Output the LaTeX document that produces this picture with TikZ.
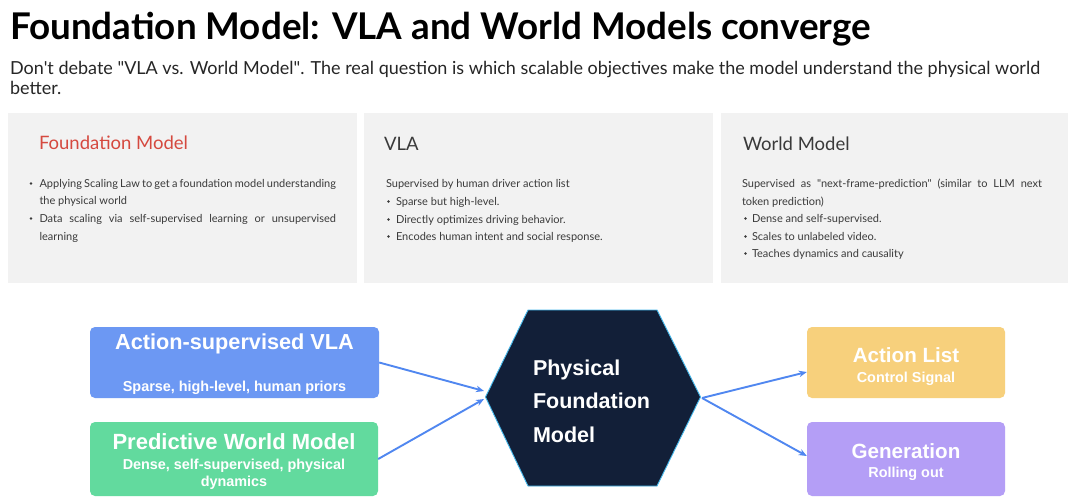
\documentclass[tikz,border=0pt]{standalone}
\usepackage{fontspec}
\setmainfont{Lato}
\newfontfamily\hel{Liberation Sans}
\usetikzlibrary{arrows.meta,calc}
\definecolor{panelgray}{HTML}{F2F2F2}
\definecolor{paneltext}{HTML}{3A3A3A}
\definecolor{fmred}{HTML}{D5493F}
\definecolor{vlablue}{HTML}{6C98F3}
\definecolor{wmgreen}{HTML}{62DA9E}
\definecolor{actyellow}{HTML}{F7D07C}
\definecolor{genpurple}{HTML}{B49EF6}
\definecolor{hexnavy}{HTML}{121F38}
\definecolor{hexedge}{HTML}{45B8EC}
\definecolor{arrowblue}{HTML}{5087F0}
\begin{document}
\begin{tikzpicture}[x=1pt,y=-1pt,
  txt/.style={anchor=base west,inner sep=0pt,outer sep=0pt},
  panelbox/.style={fill=panelgray,draw=none,anchor=north west,inner sep=0pt,minimum width=#1,minimum height=170pt},
  ptitle/.style={txt,font=\fontsize{18.5}{22}\selectfont,text=paneltext},
  pbody/.style={txt,font=\fontsize{11}{13}\selectfont,text=paneltext},
  pdot/.style={circle,fill=paneltext,draw=none,inner sep=0pt,minimum size=2.6pt},
  cbox/.style={draw=none,rounded corners=5pt,inner sep=0pt,minimum height=#1},
  btitle/.style={anchor=base,inner sep=0pt,text=white,font=\hel\bfseries\fontsize{21.7}{24}\selectfont},
  rtitle/.style={anchor=base,inner sep=0pt,text=white,font=\hel\bfseries\fontsize{20.6}{24}\selectfont},
  bsub/.style={anchor=base,inner sep=0pt,text=white,font=\hel\bfseries\fontsize{14.4}{18}\selectfont},
  flow/.style={draw=arrowblue,line width=1.9pt,-{Stealth[length=8pt,width=6.5pt]}}
]
\useasboundingbox (0,0) rectangle (1080,498);
\fill[white] (0,0) rectangle (1080,498);

% title and subtitle
\node[txt,font=\bfseries\fontsize{36.8}{40}\selectfont] (title) at (10,39) {Foundation Model: VLA and World Models converge};
\node[txt,font=\fontsize{18}{22}\selectfont,text=black!85] (sub1) at (10,74) {Don\textquotesingle t debate \textquotedbl VLA vs. World Model\textquotedbl. The real question is which scalable objectives make the model understand the physical world};
\node[txt,font=\fontsize{18}{22}\selectfont,text=black!85] (sub2) at (10,94) {better.};

% panels
\node[panelbox=349pt] (p1) at (8,113) {};
\node[panelbox=349pt] (p2) at (364,113) {};
\node[panelbox=347pt] (p3) at (721,113) {};

% panel 1
\node[ptitle,text=fmred] (p1t) at (39,149) {Foundation Model};
\node[pdot] (p1b1) at (31,183.5) {};
\node[pbody] (p1l1) at (39.5,187) {\makebox[296.5pt][s]{Applying Scaling Law to get a foundation model understanding}};
\node[pbody] (p1l2) at (39.5,204) {the physical world};
\node[pdot] (p1b2) at (31,218.5) {};
\node[pbody] (p1l3) at (39.5,222) {\makebox[296.5pt][s]{Data scaling via self-supervised learning or unsupervised}};
\node[pbody] (p1l4) at (39.5,240) {learning};

% panel 2
\node[ptitle] (p2t) at (384,150) {VLA};
\node[pbody] (p2l1) at (386,187) {Supervised by human driver action list};
\node[pdot] (p2b1) at (388.5,201.5) {};
\node[pbody] (p2l2) at (396,205) {Sparse but high-level.};
\node[pdot] (p2b2) at (388.5,219.5) {};
\node[pbody] (p2l3) at (396,223) {Directly optimizes driving behavior.};
\node[pdot] (p2b3) at (388.5,236.5) {};
\node[pbody] (p2l4) at (396,240) {Encodes human intent and social response.};

% panel 3
\node[ptitle] (p3t) at (743,150) {World Model};
\node[pbody] (p3l1) at (742,187) {\makebox[300pt][s]{Supervised as \textquotedbl next-frame-prediction\textquotedbl\ (similar to LLM next}};
\node[pbody] (p3l2) at (742,205) {token prediction)};
\node[pdot] (p3b1) at (745.5,218.5) {};
\node[pbody] (p3l3) at (752,222) {Dense and self-supervised.};
\node[pdot] (p3b2) at (745.5,236.5) {};
\node[pbody] (p3l4) at (752,240) {Scales to unlabeled video.};
\node[pdot] (p3b3) at (745.5,253.5) {};
\node[pbody] (p3l5) at (752,257) {Teaches dynamics and causality};

% left boxes
\node[cbox=71pt,fill=vlablue,minimum width=289pt] (vla) at (234.5,362.5) {};
\node[btitle] (vlat) at (234.5,349) {Action-supervised VLA};
\node[bsub] (vlas) at (234.5,391) {Sparse, high-level, human priors};

\node[cbox=74pt,fill=wmgreen,minimum width=288pt] (wm) at (234,459) {};
\node[btitle,font=\hel\bfseries\fontsize{22}{24}\selectfont] (wmt) at (234,449) {Predictive World Model};
\node[bsub] (wms1) at (234,469) {Dense, self-supervised, physical};
\node[bsub] (wms2) at (234,486) {dynamics};

% hexagon
\coordinate (hexL) at (485.5,397);
\coordinate (hexR) at (700.5,397);
\filldraw[fill=hexnavy,draw=hexedge,line width=0.9pt,line join=miter]
  (hexL) -- (528,310) -- (657,310) -- (hexR) -- (657,486) -- (528,486) -- cycle;
\node[txt,text=white,font=\hel\bfseries\fontsize{21.5}{25}\selectfont] (hx1) at (533,375) {Physical};
\node[txt,text=white,font=\hel\bfseries\fontsize{21.5}{25}\selectfont] (hx2) at (533,408) {Foundation};
\node[txt,text=white,font=\hel\bfseries\fontsize{21.5}{25}\selectfont] (hx3) at (533,442) {Model};

% right boxes
\node[cbox=71pt,fill=actyellow,minimum width=198pt] (act) at (906,362.5) {};
\node[rtitle] (actt) at (906,362) {Action List};
\node[bsub] (acts) at (906,382) {Control Signal};

\node[cbox=74pt,fill=genpurple,minimum width=198pt] (gen) at (906,459) {};
\node[rtitle] (gent) at (906,458) {Generation};
\node[bsub] (gens) at (906,477) {Rolling out};

% connectors
\coordinate (inA) at (484,391);
\coordinate (inB) at (484,399);
\coordinate (outO) at (702,398);
\draw[flow] (vla.east) -- (inA);
\draw[flow] (wm.east) -- (inB);
\draw[flow] (outO) -- ($(act.west)+(0,9.5)$);
\draw[flow] (outO) -- ($(gen.west)+(0,-3)$);
\end{tikzpicture}
\end{document}
